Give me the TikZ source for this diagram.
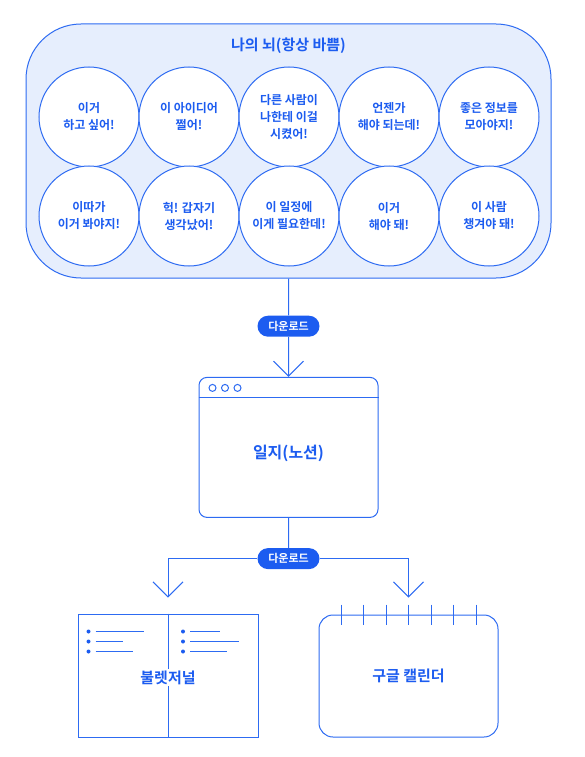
\documentclass[tikz,border=0pt]{standalone}
\usepackage{fontspec}
\setmainfont{Noto Sans CJK KR}[BoldFont={Noto Sans CJK KR Bold}]
\usetikzlibrary{arrows.meta,positioning,shapes.misc,calc}
\definecolor{cline}{HTML}{2D6BF2}
\definecolor{cink}{HTML}{1C5CF0}
\definecolor{cbrain}{HTML}{E6EEFD}
\tikzset{
  wire/.style={draw=cline, line width=1pt},
  pre/.style={wire, -{Straight Barb[length=15pt, width=30pt, line width=1pt]}},
  brainbox/.style={wire, fill=cbrain, rounded corners=55pt, minimum width=525pt, minimum height=254pt},
  thought/.style={wire, circle, fill=white, minimum size=100pt, inner sep=0pt, align=center, text=cink, font=\fontsize{12}{17}\selectfont\bfseries},
  heading/.style={text=cink, font=\fontsize{15}{18}\selectfont\bfseries, inner sep=1pt},
  pill/.style={rounded rectangle, fill=cink, text=white, minimum width=62pt, minimum height=21pt, inner sep=0pt, font=\fontsize{11}{13}\selectfont\bfseries},
  winbox/.style={wire, fill=white, rounded corners=8pt, minimum width=179pt, minimum height=140pt},
  windot/.style={wire, circle, inner sep=0pt, minimum size=7pt},
  bookbox/.style={wire, fill=white, minimum width=180pt, minimum height=123pt},
  calbox/.style={wire, fill=white, rounded corners=14pt, minimum width=179pt, minimum height=122pt, text=cink, font=\fontsize{15}{18}\selectfont\bfseries},
  bullet/.style={circle, fill=cink, inner sep=0pt, minimum size=4pt},
}
\begin{document}
\begin{tikzpicture}[x=1pt,y=-1pt]
\useasboundingbox (0,0) rectangle (585,757);
% brain
\node[brainbox] (brain) at (288.5,151) {};
\node[heading] (braintitle) at (288.5,46) {나의 뇌(항상 바쁨)};
\node[thought] (c1) at (89,117) {이거\\하고 싶어!};
\node[thought] (c2) at (189,117) {이 아이디어\\쩔어!};
\node[thought] (c3) at (289,117) {다른 사람이\\나한테 이걸\\시켰어!};
\node[thought] (c4) at (389,117) {언젠가\\해야 되는데!};
\node[thought] (c5) at (489,117) {좋은 정보를\\모아야지!};
\node[thought] (c6) at (89,216) {이따가\\이거 봐야지!};
\node[thought] (c7) at (189,216) {헉! 갑자기\\생각났어!};
\node[thought] (c8) at (289,216) {이 일정에\\이게 필요한데!};
\node[thought] (c9) at (389,216) {이거\\해야 돼!};
\node[thought] (c10) at (489,216) {이 사람\\챙겨야 돼!};
% notion
\node[pill, below=37pt of brain] (dl1) {다운로드};
\node[winbox, below=40pt of dl1] (notion) {};
\draw[wire] ($(notion.north west)+(0,21)$) -- ($(notion.north east)+(0,21)$);
\foreach \i in {0,1,2}
  \node[windot] (dot\i) at ($(notion.north west)+(14+12.5*\i,11)$) {};
\node[heading, font=\fontsize{16}{19}\selectfont\bfseries] (notionlbl) at ($(notion.center)+(0,6)$) {일지(노션)};
\draw[wire] (brain.south) -- (dl1);
\draw[pre] (dl1) -- (notion.north);
% bullet journal + calendar
\node[pill, below=30pt of notion] (dl2) {다운로드};
\node[bookbox] (bujo) at (168,675.5) {};
\draw[wire] (bujo.north) -- (bujo.south);
\foreach \y/\l in {18/66,28/45,38/55} {
  \node[bullet] at ($(bujo.north west)+(11,\y)$) {};
  \draw[wire] ($(bujo.north west)+(18,\y)$) -- ($(bujo.north west)+(\l,\y)$);
}
\foreach \y/\l in {18/52,28/71,38/59} {
  \node[bullet] at ($(bujo.north)+(15,\y)$) {};
  \draw[wire] ($(bujo.north)+(22,\y)$) -- ($(bujo.north)+(\l,\y)$);
}
\node[heading, fill=white, inner sep=2pt] (bujolbl) at ($(bujo.center)+(0,2)$) {불렛저널};
\node[calbox] (gcal) at (408.5,676) {구글 캘린더};
\foreach \k in {-3,...,3}
  \draw[wire] ($(gcal.north)+(22.5*\k,-10)$) -- ++(0,20);
\draw[wire] (notion.south) -- (dl2);
\draw[pre, shorten >=16pt] (dl2.west) -| (bujo.north);
\draw[pre, shorten >=17pt] (dl2.east) -| (gcal.north);
\end{tikzpicture}
\end{document}
